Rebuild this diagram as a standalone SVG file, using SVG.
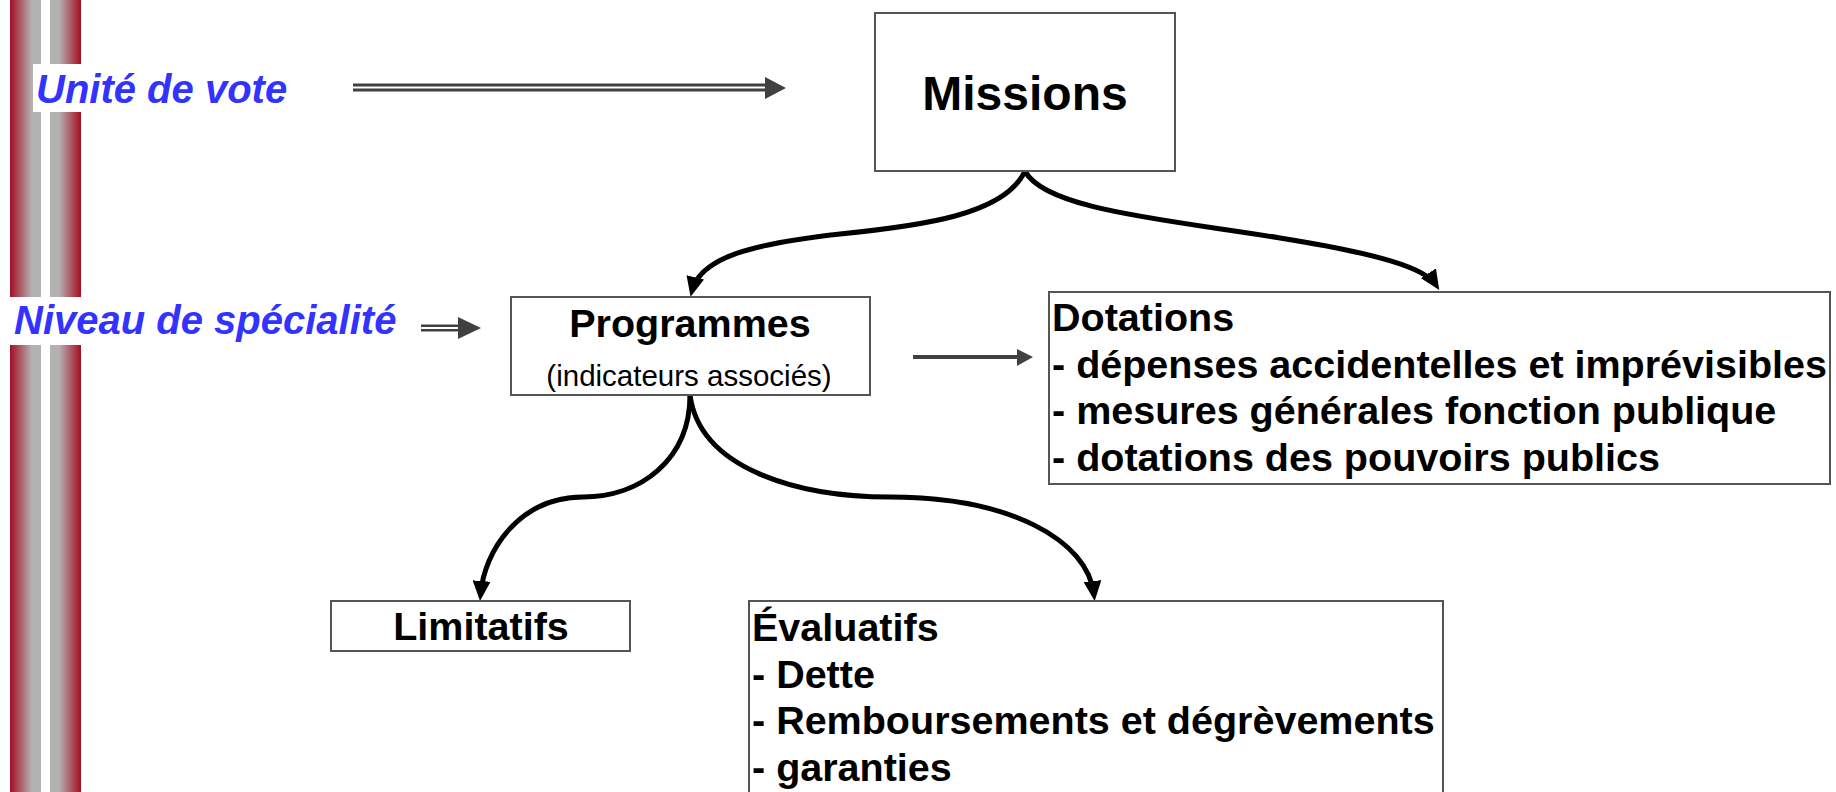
<svg xmlns="http://www.w3.org/2000/svg" width="1836" height="792" viewBox="0 0 1836 792">
<style>
.box{fill:#fff;stroke:#555;stroke-width:2}
.t{font-family:"Liberation Sans",Arial,sans-serif;font-weight:bold;fill:#000}
.b{font-size:39.5px}
.lbl{font-family:"Liberation Sans",Arial,sans-serif;font-weight:bold;font-style:italic;font-size:40px;fill:#3333ff}
.con{fill:none;stroke:#000;stroke-width:5;marker-end:url(#ah)}
.ga{fill:#404040}
</style>
<defs>
<linearGradient id="s1" x1="0" y1="0" x2="1" y2="0">
<stop offset="0" stop-color="#a50d22"/>
<stop offset="0.7" stop-color="#b4b1b1"/>
<stop offset="1" stop-color="#b4b1b1"/>
</linearGradient>
<linearGradient id="s2" x1="0" y1="0" x2="1" y2="0">
<stop offset="0" stop-color="#b4b1b1"/>
<stop offset="0.3" stop-color="#b4b1b1"/>
<stop offset="1" stop-color="#a50d22"/>
</linearGradient>
<marker id="ah" markerUnits="userSpaceOnUse" markerWidth="20" markerHeight="18" viewBox="0 0 20 18" refX="14" refY="9" orient="auto">
<path d="M0,0 L20,9 L0,18 z" fill="#000"/>
</marker>
</defs>
<rect width="1836" height="792" fill="#fff"/>
<g id="stripes">
<rect x="10" y="0" width="31" height="792" fill="url(#s1)"/>
<rect x="50" y="0" width="31" height="792" fill="url(#s2)"/>
<rect x="33" y="64" width="60" height="48" fill="#fff"/>
<rect x="8" y="297" width="80" height="48" fill="#fff"/>
</g>
<g id="label-unite">
<text class="lbl" x="36" y="103">Unité de vote</text>
</g>
<g id="label-niveau">
<text class="lbl" x="14" y="334">Niveau de spécialité</text>
</g>
<g id="connectors">
<rect class="ga" x="353" y="83.5" width="417" height="3"/>
<rect class="ga" x="353" y="88.5" width="417" height="3"/>
<path class="ga" d="M765,77 L786,88 L765,99 z"/>
<rect class="ga" x="421" y="324.5" width="40" height="2.5"/>
<rect class="ga" x="421" y="329" width="40" height="2.5"/>
<path class="ga" d="M458,317 L481,328 L458,339 z"/>
<rect class="ga" x="913" y="355" width="107" height="4"/>
<path class="ga" d="M1017,349 L1033,357 L1017,366 z"/>
<path class="con" d="M1025,171 C1005,215 920,226 840,234 C750,244 700,258 692,291"/>
<path class="con" d="M1025,171 C1045,210 1170,220 1280,238 C1380,254 1425,268 1436,285"/>
<path class="con" d="M690,395 C690,460 640,497 583,497 C520,497 484,550 480.5,595"/>
<path class="con" d="M690,395 C700,470 800,497 890,497 C1010,497 1088,540 1094,595"/>
</g>
<g id="missions">
<rect class="box" x="875" y="13" width="300" height="158"/>
<text class="t" x="1025" y="110" font-size="48" text-anchor="middle">Missions</text>
</g>
<g id="programmes">
<rect class="box" x="511" y="297" width="359" height="98"/>
<text class="t b" x="690" y="337" text-anchor="middle">Programmes</text>
<text x="689" y="386" text-anchor="middle" font-family="Liberation Sans, Arial, sans-serif" font-size="29.5" fill="#000">(indicateurs associés)</text>
</g>
<g id="dotations">
<rect class="box" x="1049" y="292" width="781" height="192"/>
<text class="t b" x="1052" y="331">Dotations</text>
<text class="t b" x="1052" y="378">- dépenses accidentelles et imprévisibles</text>
<text class="t b" x="1052" y="424">- mesures générales fonction publique</text>
<text class="t b" x="1052" y="471">- dotations des pouvoirs publics</text>
</g>
<g id="limitatifs">
<rect class="box" x="331" y="601" width="299" height="50"/>
<text class="t b" x="481" y="640" text-anchor="middle">Limitatifs</text>
</g>
<g id="evaluatifs">
<rect class="box" x="749" y="601" width="694" height="210"/>
<text class="t b" x="752" y="641">Évaluatifs</text>
<text class="t b" x="752" y="688">- Dette</text>
<text class="t b" x="752" y="734">- Remboursements et dégrèvements</text>
<text class="t b" x="752" y="781">- garanties</text>
</g>
</svg>
